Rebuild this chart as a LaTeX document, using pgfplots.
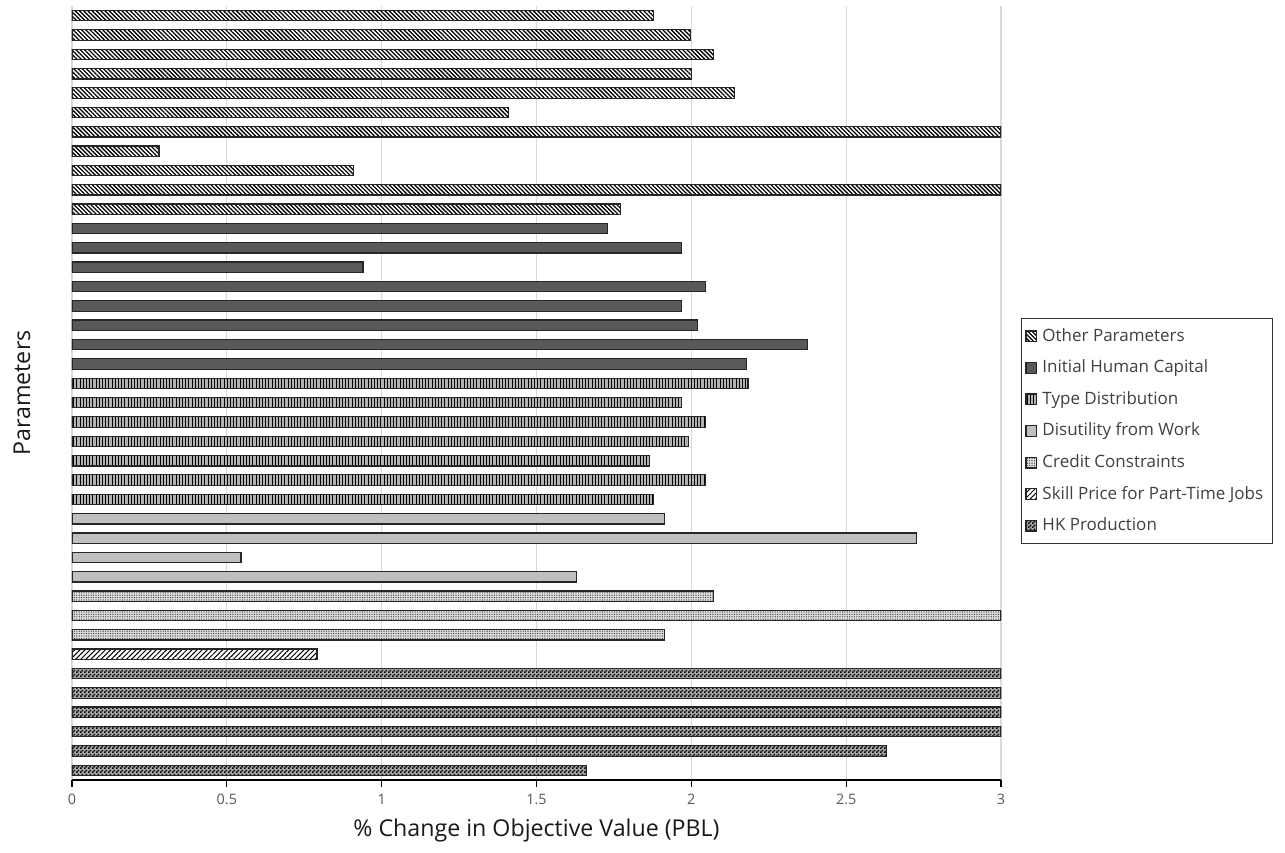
\documentclass[border=0pt]{standalone}
\usepackage{fontspec}
\setmainfont{Open Sans}
\usepackage{pgfplots}
\pgfplotsset{compat=1.18}
\usetikzlibrary{patterns,patterns.meta}
\pgfdeclarepatternformonly{finecheck}{\pgfpointorigin}{\pgfqpoint{2pt}{2pt}}{\pgfqpoint{2pt}{2pt}}{%
  \pgfpathrectangle{\pgfpointorigin}{\pgfqpoint{1pt}{1pt}}%
  \pgfpathrectangle{\pgfqpoint{1pt}{1pt}}{\pgfqpoint{1pt}{1pt}}%
  \pgfusepath{fill}}
\definecolor{tickgray}{HTML}{595959}
\definecolor{ihc}{HTML}{595959}
\definecolor{dis}{HTML}{BFBFBF}
\pgfplotsset{
  barbase/.style={xbar, bar width=5.2pt, bar shift=0pt, draw=black!85, line width=0.6pt},
  otherst/.style={barbase, preaction={fill=white}, pattern={Lines[angle=-45,distance=1.5pt,line width=0.65pt]}, pattern color=black},
  ihcst/.style={barbase, fill=ihc},
  typest/.style={barbase, preaction={fill=black!30}, pattern={Lines[angle=90,distance=1.6pt,line width=0.45pt]}, pattern color=black},
  disst/.style={barbase, fill=dis},
  credst/.style={barbase, preaction={fill=black!15}, pattern={Dots[distance=1.2pt,radius=0.3pt]}, pattern color=black!80},
  skillst/.style={barbase, preaction={fill=white}, pattern={Lines[angle=45,distance=1.8pt,line width=0.5pt]}, pattern color=black},
  hkst/.style={barbase, preaction={fill=black!35}, pattern=finecheck, pattern color=black},
}
\begin{document}
\begin{tikzpicture}
\begin{axis}[
  name=ax,
  scale only axis,
  width=464.5pt, height=387pt,
  xmin=0, xmax=3, ymin=0.5, ymax=40.5,
  xtick={0,0.5,1,1.5,2,2.5,3},
  ytick=\empty,
  axis x line*=bottom,
  axis y line*=left,
  y axis line style={draw=none},
  xmajorgrids,
  grid style={black!15, line width=0.6pt},
  tick align=outside,
  major tick length=3.5pt,
  xtick style={black, line width=0.6pt},
  x axis line style={black, line width=0.6pt},
  /pgf/number format/assume math mode=true,
  xticklabel style={font=\fontsize{7.2}{8}\selectfont, text=tickgray},
  xlabel={\% Change in Objective Value (PBL)},
  ylabel={Parameters},
  xlabel style={font=\fontsize{11.6}{13}\selectfont, text=black!90, at={(axis description cs:0.5,-0.0646)}, anchor=center},
  ylabel style={font=\fontsize{11.6}{13}\selectfont, text=black!90, at={(axis description cs:-0.0538,0.5)}, anchor=center},
  legend cell align=left,
  legend style={at={(1.0215,0.597)}, anchor=north west, draw=black!80, line width=0.5pt,
    font=\fontsize{8.5}{10}\selectfont, text=black!75, row sep=3.8pt, inner xsep=2pt, inner ysep=3pt,
    nodes={inner xsep=2.5pt}},
  legend image code/.code={\draw[#1] (0pt,-2.7pt) rectangle (5.4pt,2.7pt);},
]
\addplot[otherst] coordinates {
(1.879,40) (1.998,39) (2.072,38) (2.000,37) (2.139,36) (1.410,35) (3.000,34) (0.281,33) (0.910,32) (3.000,31) (1.772,30)};
\addlegendentry{Other Parameters}
\addplot[ihcst] coordinates {
(1.730,29) (1.967,28) (0.940,27) (2.047,26) (1.967,25) (2.020,24) (2.374,23) (2.179,22)};
\addlegendentry{Initial Human Capital}
\addplot[typest] coordinates {
(2.183,21) (1.967,20) (2.045,19) (1.991,18) (1.866,17) (2.047,16) (1.879,15)};
\addlegendentry{Type Distribution}
\addplot[disst] coordinates {
(1.913,14) (2.728,13) (0.546,12) (1.630,11)};
\addlegendentry{Disutility from Work}
\addplot[credst] coordinates {
(2.071,10) (3.000,9) (1.913,8)};
\addlegendentry{Credit Constraints}
\addplot[skillst] coordinates {
(0.791,7)};
\addlegendentry{Skill Price for Part-Time Jobs}
\addplot[hkst] coordinates {
(3.000,6) (3.000,5) (3.000,4) (3.000,3) (2.631,2) (1.661,1)};
\addlegendentry{HK Production}
\end{axis}
\pgfresetboundingbox
\path (ax.south west) ++(-36pt,-36pt) rectangle ++(642.5pt,426pt);
\end{tikzpicture}
\end{document}
